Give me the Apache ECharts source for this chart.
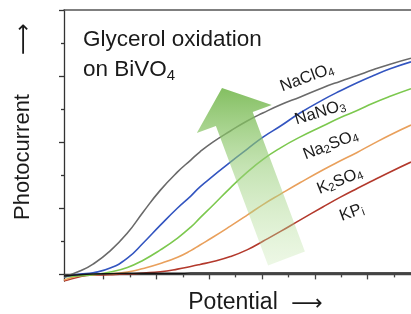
<!DOCTYPE html>
<html>
<head>
<meta charset="utf-8">
<script src="https://cdn.jsdelivr.net/npm/echarts@6/dist/echarts.min.js"></script>
<style>
html, body { margin: 0; padding: 0; background: #fff; }
#chart { width: 411px; height: 314px; }
</style>
</head>
<body>
<div id="chart"></div>
<script>
// potential, in minor-tick steps from the left edge of the plot
var potential = [0, 0.6, 1.1, 1.75, 2.4, 3.0, 3.65, 4.3, 4.8, 5.15, 5.65, 6.3, 6.95, 7.55, 8.2, 8.95, 9.8, 10.45, 11.1, 11.7, 12.35, 13.14];

var dark    = [-0.05, -0.01, 0.01, 0.02, 0.03, 0.03, 0.03, 0.03, 0.04, 0.04, 0.04, 0.04, 0.04, 0.04, 0.04, 0.04, 0.04, 0.04, 0.04, 0.04, 0.04, 0.04];
var kpi     = [-0.20, -0.07, -0.02, -0.01, 0.01, 0.04, 0.08, 0.16, 0.24, 0.30, 0.39, 0.54, 0.75, 1.01, 1.30, 1.65, 2.04, 2.33, 2.60, 2.84, 3.10, 3.40];
var k2so4   = [-0.17, -0.04, -0.01, 0.02, 0.07, 0.18, 0.33, 0.52, 0.72, 0.89, 1.13, 1.46, 1.80, 2.12, 2.43, 2.78, 3.16, 3.43, 3.69, 3.95, 4.22, 4.52];
var na2so4  = [-0.08, -0.04, -0.01, 0.07, 0.21, 0.43, 0.74, 1.10, 1.43, 1.71, 2.10, 2.62, 3.10, 3.49, 3.83, 4.16, 4.49, 4.74, 4.96, 5.18, 5.39, 5.62];
var nano3   = [-0.08, 0.01, 0.05, 0.19, 0.49, 0.95, 1.49, 2.01, 2.37, 2.65, 2.98, 3.40, 3.80, 4.16, 4.49, 4.89, 5.28, 5.55, 5.80, 6.01, 6.22, 6.43];
var naclo4  = [-0.08, 0.10, 0.31, 0.71, 1.25, 1.89, 2.55, 3.10, 3.46, 3.71, 4.01, 4.34, 4.65, 4.89, 5.13, 5.37, 5.65, 5.84, 6.02, 6.19, 6.36, 6.54];

var xMajorTicks = [1.5, 3.5, 5.5, 7.5, 9.5, 11.5];
var xMinorTicks = [0.5, 2.5, 4.5, 6.5, 8.5, 10.5, 12.5];
var yMajorTicks = [0, 2, 4, 6, 8];
var yMinorTicks = [1, 3, 5, 7];

// label text, anchor [potential, current], rotation
var labelText = ['KP{s|i}', 'K{s|2}SO{s|4}', 'Na{s|2}SO{s|4}', 'NaNO{s|3}', 'NaClO{s|4}'];
var labelAt = [[10.9, 1.87], [10.45, 2.83], [10.1, 3.92], [9.7, 4.9], [9.2, 5.95]];
var labelRot = [20, 22, 21, 17, 20];

var chart = echarts.init(document.getElementById('chart'));

function pairs(arr) {
  return potential.map(function (p, i) { return [p, arr[i]]; });
}

var font = '"Liberation Sans", Arial, sans-serif';

function curve(name, arr, color, idx) {
  var s = {
    name: name,
    type: 'line',
    xAxisIndex: 0,
    yAxisIndex: 0,
    data: pairs(arr),
    smooth: 0.5,
    showSymbol: false,
    symbol: 'none',
    silent: true,
    lineStyle: { color: color, width: 1.6 }
  };
  if (idx != null) {
    s.markPoint = {
      silent: true,
      symbol: 'circle',
      symbolSize: 0,
      data: [{ coord: labelAt[idx] }],
      label: {
        show: true,
        position: 'inside',
        formatter: labelText[idx],
        rotate: labelRot[idx],
        color: '#1a1a1a',
        fontFamily: font,
        fontSize: 16.5,
        lineHeight: 19,
        rich: {
          s: { fontSize: 11.5, lineHeight: 10, verticalAlign: 'bottom', fontFamily: font, color: '#1a1a1a' }
        }
      }
    };
  }
  return s;
}

var option = {
  animation: false,
  backgroundColor: '#fff',
  grid: [
    { left: 64, top: 10, right: 0, bottom: 33 },
    { left: 64, top: 10, right: 0, bottom: 33 }
  ],
  xAxis: [
    {
      type: 'value', gridIndex: 0, min: 0, max: 13.14, position: 'bottom',
      axisLine: { show: true, lineStyle: { color: '#444', width: 1.3 } },
      axisTick: { show: true, customValues: xMajorTicks, length: 5, lineStyle: { color: '#444', width: 1.3 } },
      axisLabel: { show: false },
      splitLine: { show: false }
    },
    {
      type: 'value', gridIndex: 0, min: 0, max: 13.14, position: 'top',
      axisLine: { show: true, lineStyle: { color: '#555', width: 1.5 } },
      axisTick: { show: false },
      axisLabel: { show: false },
      splitLine: { show: false }
    },
    {
      type: 'value', gridIndex: 1, min: 0, max: 13.14, position: 'bottom',
      axisLine: { show: false },
      axisTick: { show: true, customValues: xMinorTicks, length: 3, lineStyle: { color: '#444', width: 1.3 } },
      axisLabel: { show: false },
      splitLine: { show: false }
    }
  ],
  yAxis: [
    {
      type: 'value', gridIndex: 0, min: -0.2, max: 8,
      axisLine: { show: true, lineStyle: { color: '#333', width: 1.3 } },
      axisTick: { show: true, customValues: yMajorTicks, length: 5, lineStyle: { color: '#333', width: 1.3 } },
      axisLabel: { show: false },
      splitLine: { show: false }
    },
    {
      type: 'value', gridIndex: 1, min: -0.2, max: 8,
      axisLine: { show: false },
      axisTick: { show: true, customValues: yMinorTicks, length: 3, lineStyle: { color: '#333', width: 1.3 } },
      axisLabel: { show: false },
      splitLine: { show: false }
    }
  ],
  series: [
    curve('KPi', kpi, '#b3392c', 0),
    curve('K2SO4', k2so4, '#e9a05c', 1),
    curve('Na2SO4', na2so4, '#7cc84e', 2),
    curve('NaNO3', nano3, '#3355c0', 3),
    curve('NaClO4', naclo4, '#6a6a6a', 4),
    curve('dark', dark, '#151515', null)
  ],
  graphic: [
    {
      type: 'polygon', z: 100, silent: true,
      shape: { points: [[222, 88], [271.8, 105], [252.7, 112.1], [304.9, 251.6], [268.1, 265.4], [215.9, 125.9], [196.8, 133]] },
      style: {
        fill: {
          type: 'linear', x: 0, y: 0, x2: 0, y2: 1,
          colorStops: [
            { offset: 0, color: 'rgba(118,184,80,0.9)' },
            { offset: 0.45, color: 'rgba(150,205,118,0.55)' },
            { offset: 1, color: 'rgba(195,230,170,0.3)' }
          ]
        }
      }
    },
    {
      type: 'text', x: 83, y: 40, z: 100, silent: true,
      style: { text: 'Glycerol oxidation', font: '22.5px ' + font, fill: '#1a1a1a', textVerticalAlign: 'middle' }
    },
    {
      type: 'text', x: 83, y: 70, z: 100, silent: true,
      style: {
        text: 'on BiVO{s|4}', font: '22.5px ' + font, fill: '#1a1a1a', textVerticalAlign: 'middle',
        lineHeight: 26,
        rich: { s: { fontSize: 15, lineHeight: 12, verticalAlign: 'bottom', fontFamily: font, fill: '#1a1a1a' } }
      }
    },
    {
      type: 'text', x: 23, y: 157, rotation: Math.PI / 2, z: 100, silent: true,
      style: { text: 'Photocurrent', font: '22px ' + font, fill: '#1a1a1a', textAlign: 'center', textVerticalAlign: 'middle' }
    },
    {
      type: 'text', x: 24, y: 39, rotation: Math.PI / 2, z: 100, silent: true,
      style: { text: '⟶', font: '22px "DejaVu Sans", sans-serif', fill: '#1a1a1a', textAlign: 'center', textVerticalAlign: 'middle' }
    },
    {
      type: 'text', x: 233, y: 303, z: 100, silent: true,
      style: { text: 'Potential', font: '23px ' + font, fill: '#1a1a1a', textAlign: 'center', textVerticalAlign: 'middle' }
    },
    {
      type: 'text', x: 307, y: 304, z: 100, silent: true,
      style: { text: '⟶', font: '22px "DejaVu Sans", sans-serif', fill: '#1a1a1a', textAlign: 'center', textVerticalAlign: 'middle' }
    }
  ]
};

chart.setOption(option);
</script>
</body>
</html>
